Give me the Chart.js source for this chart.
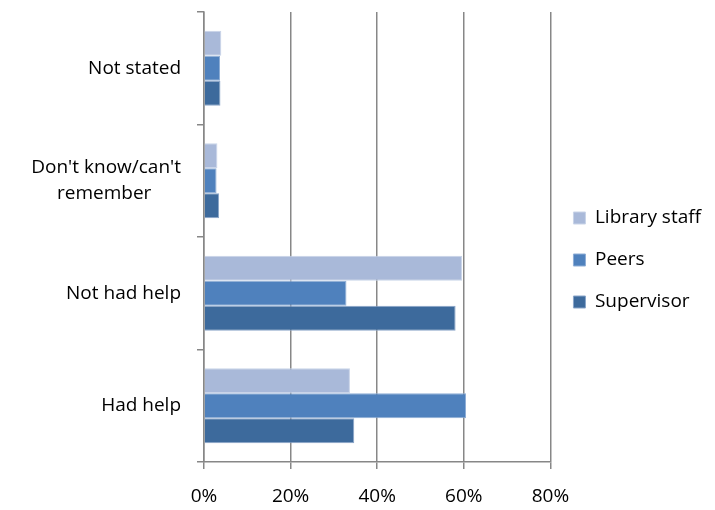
<!DOCTYPE html>
<html>
<head>
<meta charset="utf-8">
<script src="https://cdn.jsdelivr.net/npm/chart.js@4/dist/chart.umd.min.js"></script>
<style>
html,body{margin:0;padding:0;background:#fff;}
#wrap{width:715px;height:510px;position:relative;}
</style>
</head>
<body>
<div id="wrap"><canvas id="c" width="715" height="510"></canvas></div>
<script>
const categories = ["Not stated", "Don't know/can't remember", "Not had help", "Had help"];
const seriesNames = ["Library staff", "Peers", "Supervisor"];
const libraryStaff = [4.0, 3.1, 59.6, 33.7];
const peers = [3.7, 2.9, 32.9, 60.5];
const supervisor = [3.8, 3.5, 58.1, 34.7];
const xTicks = [0, 20, 40, 60, 80];

const colors = ["#A9B9D9", "#4F81BD", "#3D6A9C"];
const borders = ["#C9D4E8", "#8FAED6", "#8AA5C9"];
const FONT = "Open Sans";

const ctx = document.getElementById('c').getContext('2d');
new Chart(ctx, {
  type: 'bar',
  data: {
    labels: categories,
    datasets: [libraryStaff, peers, supervisor].map((d, i) => ({
      label: seriesNames[i],
      data: d,
      backgroundColor: colors[i],
      borderColor: borders[i],
      borderWidth: 1,
      categoryPercentage: 0.667,
      barPercentage: 1.0
    }))
  },
  options: {
    indexAxis: 'y',
    responsive: false,
    animation: false,
    layout: { padding: { top: 12, left: 14, right: 4, bottom: 2 } },
    plugins: {
      legend: {
        position: 'right',
        labels: {
          boxWidth: 12, boxHeight: 12, padding: 23,
          color: '#000',
          font: { family: FONT, size: 19 }
        }
      },
      tooltip: { enabled: false }
    },
    scales: {
      x: {
        min: 0, max: 80,
        afterBuildTicks: (s) => { s.ticks = xTicks.map(v => ({ value: v })); },
        afterFit: (s) => { s.paddingLeft = 0; s.paddingRight = 0; s.height = 46; },
        ticks: {
          callback: (v) => v + '%',
          color: '#000',
          padding: 16,
          maxRotation: 0,
          font: { family: FONT, size: 19 }
        },
        grid: { color: '#878787', lineWidth: 1.5, tickLength: 7 },
        border: { color: '#878787', width: 1.5 }
      },
      y: {
        afterFit: (s) => { s.paddingTop = 0; s.paddingBottom = 0; s.width = 190; },
        ticks: {
          color: '#000',
          padding: 16,
          font: { family: FONT, size: 19, lineHeight: 1.4 },
          callback: function(v, i) {
            const l = categories[i];
            if (l === "Don't know/can't remember") return ["Don't know/can't", "remember\u00a0\u00a0\u00a0\u00a0\u00a0\u00a0"];
            return l;
          }
        },
        grid: { drawOnChartArea: false, color: '#878787', lineWidth: 1.5, tickLength: 7, offset: true },
        border: { color: '#878787', width: 1.5 }
      }
    }
  }
});
</script>
</body>
</html>
